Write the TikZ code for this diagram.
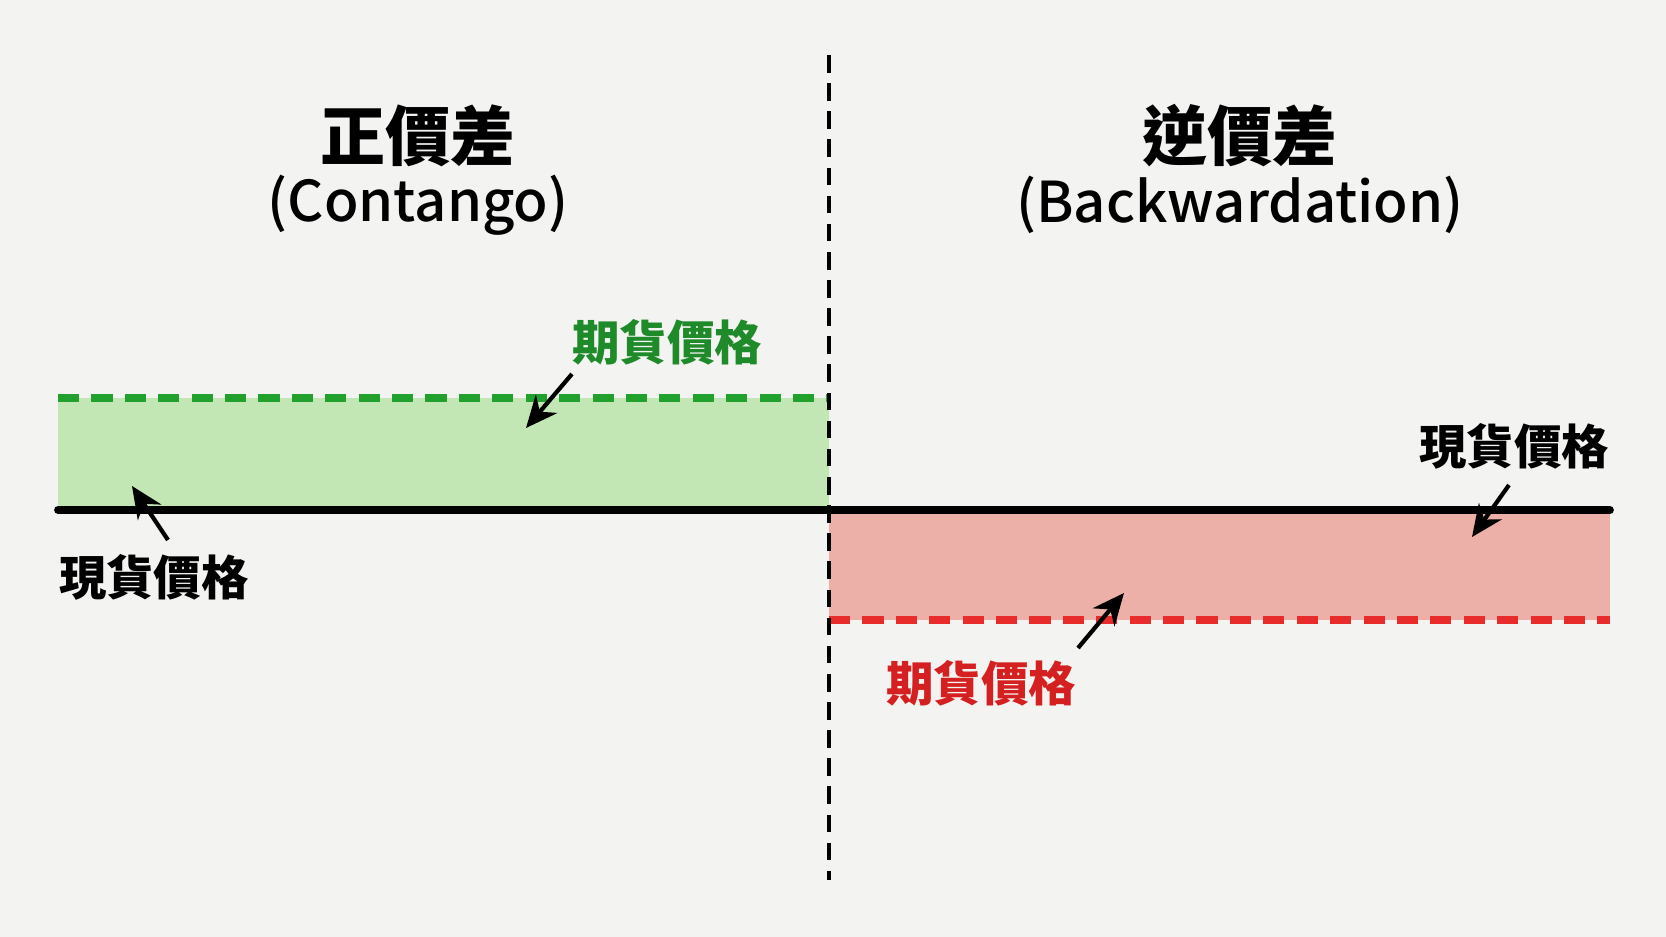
\documentclass[tikz,border=0pt]{standalone}
\usepackage{fontspec}
\setmainfont{Noto Sans CJK TC}
\newfontfamily\latinmed{Noto Sans CJK TC Medium}
\usepackage{tikz}
\usetikzlibrary{arrows.meta}
\definecolor{bg}{HTML}{F3F3F1}
\definecolor{gfill}{HTML}{C3E6B5}
\definecolor{gline}{HTML}{22A02E}
\definecolor{gtext}{HTML}{1E8A2A}
\definecolor{rfill}{HTML}{EDB0A8}
\definecolor{rline}{HTML}{E82C2C}
\definecolor{rtext}{HTML}{D42020}
\tikzset{
  title/.style={font=\fontsize{18.5}{19.5}\selectfont\bfseries},
  subtitle/.style={font=\latinmed\fontsize{16}{18}\selectfont},
  label/.style={font=\fontsize{13.5}{15}\selectfont\bfseries},
  pointer/.style={-{Stealth[length=9pt,width=8pt]}, line width=1.2pt},
  level/.style={line width=2pt, dash pattern=on 6pt off 3.5pt}
}
\begin{document}
\begin{tikzpicture}[x=0.01cm, y=-0.01cm]
  \fill[bg] (0,0) rectangle (1666,937);
  \useasboundingbox (0,0) rectangle (1666,937);
  % shaded gaps
  \fill[gfill] (58,398) rectangle (829,510);
  \fill[rfill] (829,510) rectangle (1610,620);
  % price levels
  \coordinate (gL) at (58,398);  \coordinate (gR) at (829,398);
  \coordinate (rL) at (829,620); \coordinate (rR) at (1610,620);
  \coordinate (sL) at (58,510);  \coordinate (sR) at (1610,510);
  \draw[level, gline] (gL) -- (gR);
  \draw[level, rline] (rL) -- (rR);
  \draw[line width=2.2pt, line cap=round] (sL) -- (sR);
  % divider
  \coordinate (dT) at (829,55); \coordinate (dB) at (829,880);
  \draw[line width=1.2pt, dash pattern=on 5pt off 3pt] (dT) -- (dB);
  % titles
  \node[title] (cont) at (418,136) {正價差};
  \node[subtitle] (contE) at (418,205) {(Contango)};
  \node[title] (back) at (1240,136) {逆價差};
  \node[subtitle] (backE) at (1240,205) {(Backwardation)};
  % labels
  \node[label, text=gtext] (fut1) at (667,342) {期貨價格};
  \node[label] (spot1) at (154,577) {現貨價格};
  \node[label] (spot2) at (1514,446) {現貨價格};
  \node[label, text=rtext] (fut2) at (981,683) {期貨價格};
  \coordinate (a1) at (526,428);
  \coordinate (a2) at (132,486);
  \coordinate (a3) at (1472,537);
  \coordinate (a4) at (1124,593);
  \draw[pointer] (572,374) -- (a1);
  \draw[pointer] (168,540) -- (a2);
  \draw[pointer] (1509,485) -- (a3);
  \draw[pointer] (1078,648) -- (a4);
\end{tikzpicture}
\end{document}
